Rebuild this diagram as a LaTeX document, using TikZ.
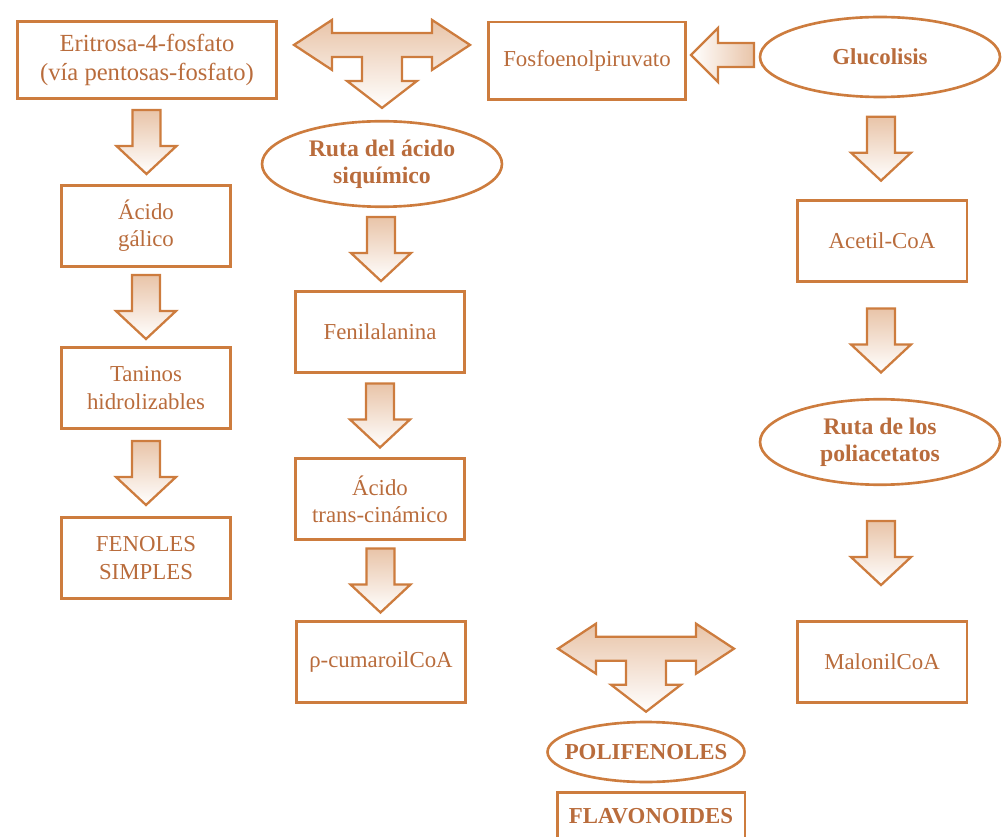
\documentclass[tikz,border=0pt]{standalone}
\usepackage{fontspec}
\setmainfont{Liberation Serif}
\usepackage{tikz}
\usetikzlibrary{positioning}
\usetikzlibrary{shapes}
\usetikzlibrary{calc}

\definecolor{naranja}{RGB}{205,124,62}
\definecolor{letra}{RGB}{185,108,60}

\tikzset{
    caja/.style = {draw = naranja, line width = 1.7pt, rectangle, text = letra, align = center,
                   font = \fontsize{13}{15.5}\selectfont, minimum width = 3.4cm, minimum height = 1.62cm},
    ovalo/.style = {draw = naranja, line width = 1.5pt, ellipse, text = letra, align = center,
                    font = \fontsize{13.5}{15.5}\selectfont\bfseries, minimum width = 4.8cm, minimum height = 1.64cm},
    bloque/.style = {draw = naranja, line width = 1.3pt, line join = miter, top color = naranja!45, bottom color = white},
}

% flecha gruesa hacia abajo, centrada entre dos nodos
\newcommand{\flecha}[2]{%
    \path ($(#1.south)!0.5!(#2.north)$) coordinate (m);
    \draw[bloque] (m) ++(-14,-32) -- ++(28,0) -- ++(0,36) -- ++(16,0) -- ++(-30,28)
        -- ++(-30,-28) -- ++(16,0) -- cycle;
}
% flecha en T (dos puntas y una hacia abajo), #1 = punta de abajo
\newcommand{\flechaT}[1]{%
    \draw[bloque] (#1) ++(-88,-63) -- ++(38,-25) -- ++(0,13) -- ++(100,0) -- ++(0,-13)
        -- ++(38,25) -- ++(-38,25) -- ++(0,-13) -- ++(-30,0) -- ++(0,24) -- ++(15,0)
        -- ++(-35,27) -- ++(-35,-27) -- ++(15,0) -- ++(0,-24) -- ++(-30,0) -- ++(0,13) -- cycle;
}

\begin{document}
\begin{tikzpicture}[x = 0.02cm, y = -0.02cm]
    \useasboundingbox (0,0) rectangle (1003,837);

    % fila de arriba
    \node[caja, font = \fontsize{14}{16}\selectfont, minimum width = 5.2cm, minimum height = 1.54cm] at (147,60) (eri) {Eritrosa-4-fosfato\\(vía pentosas-fosfato)} ;
    \node[caja, minimum width = 3.96cm, minimum height = 1.56cm] at (587,61) (fosfo) {Fosfoenolpiruvato} ;
    \node[ovalo, font = \fontsize{13}{15}\selectfont\bfseries, minimum height = 1.6cm] at (880,57) (gluco) {Glucolisis} ;

    % columna izquierda
    \node[caja] at (146,226) (acido) {Ácido\\gálico} ;
    \node[caja] at (146,388) (taninos) {Taninos\\hidrolizables} ;
    \node[caja] at (146,558) (fenoles) {FENOLES\\SIMPLES} ;

    % columna del medio
    \node[ovalo] at (382,164) (sik) {Ruta del ácido\\siquímico} ;
    \node[caja] at (380,332) (feni) {Fenilalanina} ;
    \node[caja] at (380,499) (trans) {Ácido\\trans-cinámico} ;
    \node[caja] at (381,662) (cumar) {ρ-cumaroilCoA} ;

    % columna derecha
    \node[caja] at (882,241) (acetil) {Acetil-CoA} ;
    \node[ovalo] at (880,442) (poliac) {Ruta de los\\poliacetatos} ;
    \node[caja] at (882,662) (malonil) {MalonilCoA} ;

    % abajo
    \node[ovalo, font = \fontsize{13}{15}\selectfont\bfseries, inner xsep = -0.27cm, minimum width = 3.94cm, minimum height = 1.2cm] at (646,752) (polif) {POLIFENOLES} ;
    \node[caja, font = \fontsize{13}{15}\selectfont\bfseries, minimum width = 3.76cm, minimum height = 0.96cm] at (651,816) (flavo) {FLAVONOIDES} ;

    % flechas
    \flechaT{$(sik.north)+(0,-12)$}
    \flechaT{$(polif.north)+(0,-9)$}
    \path ($(fosfo.east)!0.5!(gluco.west)$) coordinate (mh);
    \draw[bloque, top color = white, bottom color = white, left color = white, right color = naranja!45]
        (mh) ++(-32,-4) -- ++(27,-27) -- ++(0,15) -- ++(36,0) -- ++(0,24) -- ++(-36,0) -- ++(0,15) -- cycle;
    \flecha{eri}{acido}
    \flecha{acido}{taninos}
    \flecha{taninos}{fenoles}
    \flecha{sik}{feni}
    \flecha{feni}{trans}
    \flecha{trans}{cumar}
    \flecha{gluco}{acetil}
    \flecha{acetil}{poliac}
    \flecha{poliac}{malonil}
\end{tikzpicture}
\end{document}
